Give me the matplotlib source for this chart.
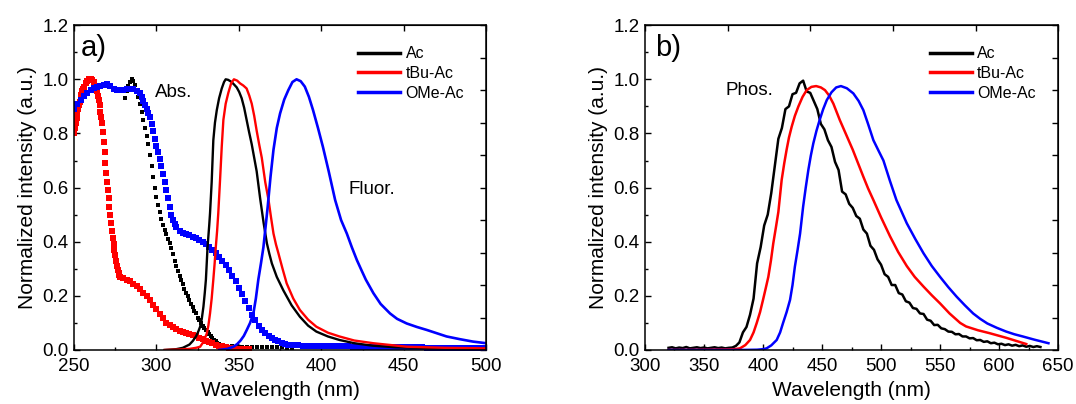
import numpy as np
import matplotlib
matplotlib.use("Agg")
import matplotlib.pyplot as plt
from matplotlib.ticker import AutoMinorLocator, NullFormatter
from matplotlib.lines import Line2D

plt.rcParams["font.family"] = ["Liberation Sans", "DejaVu Sans"]

LABELS = ["Ac", "tBu-Ac", "OMe-Ac"]
COLORS = ["black", "red", "blue"]

# ---- (a) absorption (squares) ----
ABS_AC_WL = np.concatenate([np.arange(281, 339, 1), np.arange(340, 384, 3)])
ABS_AC = [.93, .955, .975, .99, 1.0, .995, .98, .96, .935, .91,
          .88, .85, .82, .79, .76, .72, .68, .64, .60, .565,
          .535, .51, .485, .46, .445, .43, .41, .395, .375, .355,
          .33, .31, .29, .275, .26, .245, .225, .21, .20, .185,
          .17, .16, .145, .135, .12, .11, .10, .09, .08, .074,
          .065, .058, .05, .043, .037, .032, .027, .023,
          .019, .016, .014, .013, .012, .012, .012, .011, .011, .011,
          .010, .010, .010, .009, .009]

ABS_TBU_WL = np.concatenate([np.arange(250, 256.5, 0.5), np.arange(257, 264, 1),
                             np.arange(264, 278, 0.5), np.arange(278, 358, 2)])
ABS_TBU = [.80, .82, .84, .858, .875, .89, .905, .918, .93, .943, .955, .963, .97,
           .985, .995, 1.0, 1.0, .998, .99, .975,
           .955, .94, .925, .905, .88, .86, .84, .805, .77, .73,
           .69, .655, .62, .59, .56, .53, .50, .47, .44, .415,
           .39, .37, .35, .33, .31, .297, .285, .277,
           .27, .265, .26, .255, .245, .235, .225, .21, .20, .185,
           .168, .15, .133, .117, .10, .092, .084, .077, .07, .066,
           .062, .058, .054, .05, .045, .04, .035, .03, .025, .02,
           .016, .013, .01, .008, .006, .005, .004, .003, .002, .002]

ABS_OME_WL = np.concatenate([np.arange(250, 291, 2), np.arange(291, 313, 1),
                             np.arange(314, 381, 2), np.arange(383, 501, 3)])
ABS_OME = [.89, .91, .925, .94, .95, .96, .967, .972, .977, .98,
           .982, .975, .966, .962, .96, .962, .963, .963, .963, .958, .948,
           .935, .92, .905, .89, .875, .86, .835, .81, .78, .755,
           .73, .705, .68, .65, .62, .59, .56, .53, .50, .48, .465, .455,
           .44, .433, .428, .424, .418, .412, .405, .40, .39, .38,
           .37, .358, .345, .33, .315, .295, .275, .255, .23, .205,
           .18, .155, .13, .11, .09, .075, .063, .053, .045, .038,
           .032, .027, .023, .02,
           .018, .017, .016, .016, .015, .015, .014, .014, .014, .013,
           .013, .013, .012, .012, .012, .012, .011, .011, .011, .011,
           .011, .010, .010, .010, .010, .010, .010, .009, .009, .009,
           .009, .009, .009, .009, .008, .008, .008, .008, .008, .008]

# ---- (a) fluorescence (lines) ----
FL_AC_WL = [305, 312, 316, 320, 322, 324, 325.5, 326.5, 327.5, 328.5, 329.3, 330,
            331, 332, 332.5, 333.5, 334.5, 335.5, 336.6, 338, 339.6, 341, 342, 343.5,
            345.6, 347.2, 348.7, 350.2, 351.7, 353.2, 354.7, 356.2, 357.8, 359.3,
            360.8, 362.9, 365, 367, 368.5, 370, 373, 377, 382, 387, 392, 397, 404,
            411, 420, 431, 445, 465, 500]
FL_AC = [0, .003, .008, .02, .033, .05, .07, .086, .115, .16, .21, .26,
         .38, .46, .505, .62, .775, .84, .886, .93, .966, .99, 1.0, .998,
         .99, .98, .97, .953, .93, .895, .85, .805, .76, .71,
         .66, .56, .47, .394, .355, .32, .27, .22, .165, .123, .09, .068, .05,
         .037, .025, .016, .01, .007, .004]

FL_TBU_WL = [305, 315, 320, 324, 326.5, 328.5, 330.5, 331.5, 332.5, 333.5, 334.5,
             335.3, 336, 336.8, 337.5, 338.6, 339.6, 340.6, 342, 343.6, 345.3, 347,
             349, 350.7, 352.7, 354.7, 356.3, 357.8, 359.3, 360.8, 362.3, 363.9, 366,
             368, 369.5, 371, 372.5, 374, 376.5, 379, 383, 387, 392, 397, 404, 411,
             420, 431.6, 452, 475, 500]
FL_TBU = [0, .002, .004, .008, .012, .03, .06, .09, .135, .19, .26,
          .32, .38, .44, .505, .63, .75, .85, .91, .95, .985, 1.0,
          .995, .985, .977, .966, .94, .91, .865, .81, .76, .71, .62,
          .554, .49, .43, .39, .357, .30, .246, .19, .148, .112, .086, .064, .05,
          .035, .025, .012, .008, .006]

FL_OME_WL = [338, 343, 346.7, 349, 351, 353, 354.8, 356.8, 358.8, 360.3, 361.8,
             363.4, 364.9, 366.2, 367.5, 369.2, 371, 373, 375, 377.5, 380, 382.5,
             385, 387.5, 390, 392.5, 395, 398, 401, 404.5, 408.4, 412, 415.5, 418.5,
             421.6, 424.5, 427, 431.6, 436, 441.7, 446, 451.8, 458, 464, 470, 476,
             484, 492, 500]
FL_OME = [0, .004, .012, .022, .035, .052, .074, .10, .135, .19, .26,
          .32, .38, .455, .53, .64, .74, .82, .874, .925, .96, .99,
          1.0, .993, .973, .935, .886, .82, .75, .66, .554, .48, .43, .38,
          .332, .293, .26, .21, .17, .135, .115, .098, .085, .074, .062, .05,
          .04, .031, .025]

# ---- (b) phosphorescence ----
PH_AC_WL = np.arange(320, 636, 3)
PH_AC = [.008, .010, .006, .009, .007, .011, .006, .008, .010, .007,
         .009, .006, .008, .010, .007, .009, .006, .008, .009, .015,
         .028, .065, .085, .13, .19, .32, .38, .46, .50, .58,
         .68, .78, .82, .89, .90, .945, .95, .985, .995, .955,
         .95, .92, .89, .835, .815, .775, .75, .695, .665, .585,
         .575, .54, .525, .495, .485, .445, .43, .385, .37, .335,
         .315, .28, .27, .24, .24, .21, .205, .18, .175, .155,
         .152, .135, .133, .112, .108, .092, .093, .08, .077, .068,
         .067, .058, .059, .05, .05, .043, .044, .036, .037, .03,
         .032, .025, .027, .021, .023, .018, .021, .016, .019, .014,
         .017, .012, .015, .011, .014, .011]

PH_TBU_WL = [320, 350, 370, 376, 380.5, 385, 389, 392, 394.7, 397.5, 400, 402.3,
             404.5, 406.7, 408.7, 411, 413, 415.8, 418, 420, 422, 424.3, 427, 430,
             433.5, 437, 441, 445, 449, 452.5, 456, 459.6, 462.3, 465, 470, 476,
             480.5, 485, 489, 493.5, 500, 507.6, 514.5, 521.8, 528.5, 536, 543, 550,
             558, 567, 572, 582, 592, 606, 623]
PH_TBU = [0, .001, .002, .003, .006, .018, .037, .065, .10, .14, .185, .228,
          .27, .33, .394, .455, .51, .628, .69, .74, .785, .825, .865, .90,
          .935, .96, .972, .975, .97, .96, .94, .91, .88, .85, .80, .74,
          .69, .64, .597, .554, .49, .42, .362, .31, .27, .234, .202, .172,
          .135, .10, .087, .073, .062, .045, .022]

PH_OME_WL = [320, 380, 395, 400, 403, 407, 411.6, 414.5, 417, 420, 422.9, 425,
             427, 429.3, 431.4, 434, 436.2, 438.4, 440.5, 442.6, 445.3, 448, 451,
             454, 458, 462, 466, 471, 476.5, 481, 485, 489, 493.5, 498, 502, 507.5,
             513, 517.5, 521.8, 529, 536, 543, 550, 557, 564, 571, 578, 584, 590,
             598, 606, 613, 620, 630, 641.8]
PH_OME = [0, 0, .001, .003, .006, .017, .037, .065, .10, .14, .185, .24,
          .308, .37, .43, .53, .60, .665, .718, .763, .81, .85, .89,
          .923, .952, .97, .975, .967, .948, .92, .886, .835, .775, .735, .70, .625,
          .554, .51, .468, .41, .357, .31, .27, .232, .197, .165, .135, .115, .098,
          .082, .068, .058, .05, .038, .025]


def style_axes(ax, xlim, major):
    ax.set_xlim(*xlim)
    ax.set_ylim(0, 1.2)
    ax.set_xticks(np.arange(xlim[0], xlim[1] + 1, major))
    ax.set_yticks(np.arange(0, 1.21, 0.2))
    ax.set_yticklabels([f"{v:.1f}" for v in np.arange(0, 1.21, 0.2)])
    ax.xaxis.set_minor_locator(AutoMinorLocator(2))
    ax.yaxis.set_minor_locator(AutoMinorLocator(2))
    ax.tick_params(which="both", direction="in", top=False, right=False,
                   labelsize=13.5, width=1)
    ax.tick_params(which="major", length=4)
    ax.tick_params(axis="x", which="major", pad=6)
    ax.tick_params(axis="y", which="major", pad=4)
    ax.tick_params(which="minor", length=2.5)
    for s in ax.spines.values():
        s.set_linewidth(1.1)
    top = ax.secondary_xaxis("top")
    top.set_xticks(np.linspace(xlim[0], xlim[1], 6))
    top.xaxis.set_major_formatter(NullFormatter())
    top.tick_params(direction="in", length=4, width=1)
    right = ax.secondary_yaxis("right")
    right.set_yticks(np.linspace(0, 1.2, 11))
    right.yaxis.set_major_formatter(NullFormatter())
    right.tick_params(direction="in", length=4, width=1)
    ax.set_xlabel("Wavelength (nm)", fontsize=15, labelpad=4)
    ax.set_ylabel("Normalized intensity (a.u.)", fontsize=15, labelpad=4)
    handles = [Line2D([], [], color=c, lw=2.5) for c in COLORS]
    ax.legend(handles, LABELS, loc="upper left", bbox_to_anchor=(0.69, 0.935),
              frameon=False, fontsize=11.5, handlelength=2.6, handletextpad=0.35,
              labelspacing=0.3, borderaxespad=0, borderpad=0)


fig = plt.figure(figsize=(10.76, 4.04), dpi=100)
ax1 = fig.add_axes([0.0688, 0.1337, 0.383, 0.804])
ax2 = fig.add_axes([0.5994, 0.1337, 0.384, 0.804])

# panel a
ax1.plot(ABS_AC_WL, ABS_AC, "s", color="black", ms=3.5, mew=0)
ax1.plot(ABS_TBU_WL, ABS_TBU, "s", color="red", ms=4.0, mew=0)
ax1.plot(ABS_OME_WL, ABS_OME, "s", color="blue", ms=5.0, mew=0)
ax1.plot(FL_AC_WL, FL_AC, color="black", lw=1.7)
ax1.plot(FL_TBU_WL, FL_TBU, color="red", lw=1.7)
ax1.plot(FL_OME_WL, FL_OME, color="blue", lw=1.9)
style_axes(ax1, (250, 500), 50)
ax1.text(0.017, 0.929, "a)", transform=ax1.transAxes, fontsize=21, va="center")
ax1.text(0.197, 0.794, "Abs.", transform=ax1.transAxes, fontsize=13.5, va="center")
ax1.text(0.665, 0.495, "Fluor.", transform=ax1.transAxes, fontsize=13.5, va="center")

# panel b
ax2.plot(PH_AC_WL, PH_AC, color="black", lw=1.8)
ax2.plot(PH_TBU_WL, PH_TBU, color="red", lw=1.8)
ax2.plot(PH_OME_WL, PH_OME, color="blue", lw=1.8)
style_axes(ax2, (300, 650), 50)
ax2.text(0.025, 0.929, "b)", transform=ax2.transAxes, fontsize=21, va="center")
ax2.text(0.196, 0.80, "Phos.", transform=ax2.transAxes, fontsize=13.5, va="center")

fig.savefig("out.png", dpi=100, facecolor="white")
